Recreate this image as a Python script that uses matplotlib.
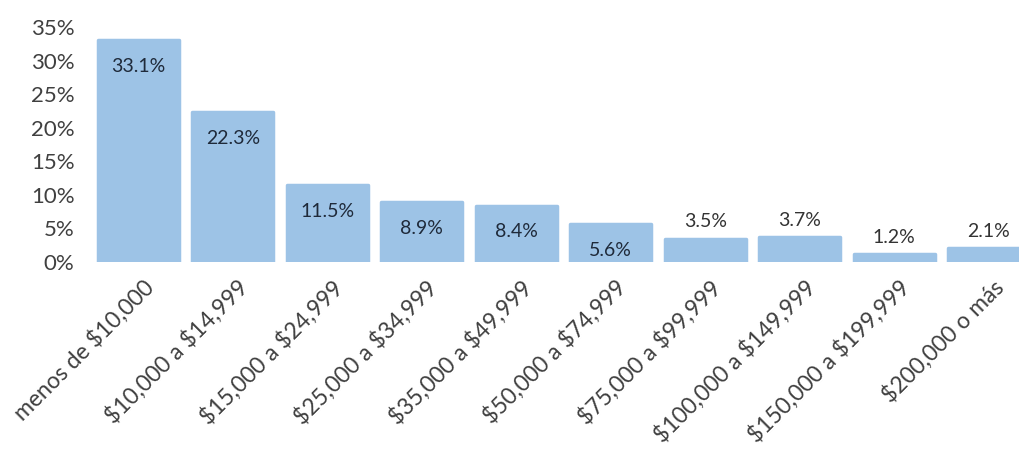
import matplotlib
matplotlib.use("Agg")
import matplotlib.pyplot as plt
from matplotlib.ticker import FuncFormatter
import matplotlib.transforms as mtransforms

categories = ["menos de $10,000", "$10,000 a $14,999", "$15,000 a $24,999",
              "$25,000 a $34,999", "$35,000 a $49,999", "$50,000 a $74,999",
              "$75,000 a $99,999", "$100,000 a $149,999", "$150,000 a $199,999",
              "$200,000 o más"]
values = [33.1, 22.3, 11.5, 8.9, 8.4, 5.6, 3.5, 3.7, 1.2, 2.1]
labels = ["33.1%", "22.3%", "11.5%", "8.9%", "8.4%", "5.6%", "3.5%", "3.7%", "1.2%", "2.1%"]
yticks = [0, 5, 10, 15, 20, 25, 30, 35]

plt.rcParams['font.family'] = ['Lato', 'DejaVu Sans']
plt.rcParams['text.parse_math'] = False

W, H = 1019, 455
fig = plt.figure(figsize=(W / 100, H / 100), dpi=100)
left_px, right_px, top_px, bot_px = 91, 1019, 27, 262
ax = fig.add_axes([left_px / W, (H - bot_px) / H, (right_px - left_px) / W, (bot_px - top_px) / H])

bar_color = "#9DC3E6"
x = list(range(len(values)))
bars = ax.bar(x, values, width=0.86, color=bar_color, edgecolor=bar_color,
              linewidth=2.5)
for b in bars:
    b.set_joinstyle('round')

for i, (v, lab) in enumerate(zip(values, labels)):
    if v >= 5:
        ax.annotate(lab, (i, v), xytext=(0, -19), textcoords='offset points',
                    ha='center', va='center', fontsize=14, color="#1F2A3A")
    else:
        ax.annotate(lab, (i, v), xytext=(0, 12), textcoords='offset points',
                    ha='center', va='center', fontsize=14, color="#333333")

ax.set_xlim(-0.5, 9.32)
ax.set_ylim(0, 35)
ax.set_yticks(yticks)
ax.yaxis.set_major_formatter(FuncFormatter(lambda v, p: f"{int(v)}%"))
ax.set_xticks(x)
ax.set_xticklabels(categories, rotation=45, ha='right', va='center', rotation_mode='anchor')
ax.tick_params(axis='both', length=0, labelsize=16, colors="#404040")
ax.tick_params(axis='x', labelsize=16.5)
ax.tick_params(axis='y', pad=12)
ax.tick_params(axis='x', pad=16)
offset = mtransforms.ScaledTranslation(12 / 100, 0, fig.dpi_scale_trans)
for lbl in ax.get_xticklabels():
    lbl.set_transform(lbl.get_transform() + offset)
for s in ax.spines.values():
    s.set_visible(False)

fig.savefig("out.png", dpi=100, facecolor="white")
